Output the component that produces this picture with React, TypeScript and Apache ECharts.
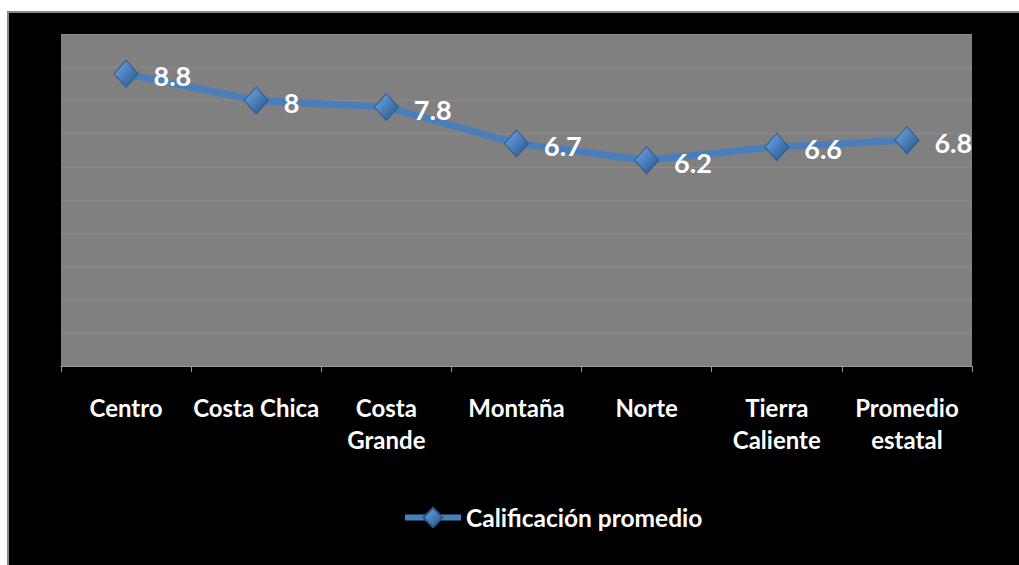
import React, { useEffect, useRef } from "react";
import * as echarts from "echarts";

const categories = ["Centro", "Costa Chica", "Costa\nGrande", "Montaña", "Norte", "Tierra\nCaliente", "Promedio\nestatal"];
const values = [8.8, 8, 7.8, 6.7, 6.2, 6.6, 6.8];
const seriesName = "Calificación promedio";

export default function App() {
  const ref = useRef<HTMLDivElement>(null);
  useEffect(() => {
    const chart = echarts.init(ref.current!, null, { renderer: "svg" });
    const font = "Lato, 'Open Sans', sans-serif";
    const diamondFill = new echarts.graphic.LinearGradient(0, 0, 1, 1, [
      { offset: 0, color: "#7aa9e0" },
      { offset: 0.5, color: "#4a7ebb" },
      { offset: 1, color: "#23507f" },
    ]);
    chart.setOption({
      animation: false,
      backgroundColor: "#000000",
      textStyle: { fontFamily: font },
      grid: {
        left: 52,
        top: 21,
        width: 911,
        height: 332,
        show: true,
        backgroundColor: "#808080",
        borderWidth: 0,
      },
      legend: {
        top: 487,
        left: 388,
        itemWidth: 56,
        itemHeight: 24,
        itemGap: 4,
        data: [seriesName],
        lineStyle: { width: 6 },
        textStyle: { color: "#ffffff", fontSize: 24.5, fontWeight: "bold", fontFamily: font },
      },
      xAxis: {
        type: "category",
        data: categories,
        boundaryGap: true,
        axisLine: { show: true, lineStyle: { color: "#9a9a9a", width: 1 } },
        axisTick: { show: true, length: 6, lineStyle: { color: "#9a9a9a" } },
        axisLabel: {
          color: "#ffffff",
          fontSize: 24,
          fontWeight: "bold",
          fontFamily: font,
          margin: 25,
          lineHeight: 32,
          interval: 0,
        },
      },
      yAxis: {
        type: "value",
        min: 0,
        max: 10,
        interval: 1,
        axisLabel: { show: false },
        axisLine: { show: false },
        axisTick: { show: false },
        splitLine: { show: true, lineStyle: { color: "#8c8c8c", width: 1 } },
      },
      series: [
        {
          name: seriesName,
          type: "line",
          data: values,
          symbol: "diamond",
          symbolSize: [24, 27],
          lineStyle: { color: "#4a7ebb", width: 7 },
          itemStyle: { color: diamondFill, borderColor: "#2c5a8f", borderWidth: 1 },
          label: {
            show: true,
            position: "right",
            distance: 15,
            offset: [0, 2],
            color: "#ffffff",
            fontSize: 27,
            fontWeight: "bold",
            fontFamily: font,
          },
        },
      ],
    });
    return () => chart.dispose();
  }, []);
  return (
    <div
      style={{
        position: "absolute",
        left: 7,
        top: 11,
        width: 1012,
        height: 554,
        borderLeft: "2px solid #8a8a8a",
        borderTop: "2px solid #8a8a8a",
        boxSizing: "border-box",
        background: "#000",
      }}
    >
      <div ref={ref} style={{ width: 1010, height: 552 }} />
    </div>
  );
}
